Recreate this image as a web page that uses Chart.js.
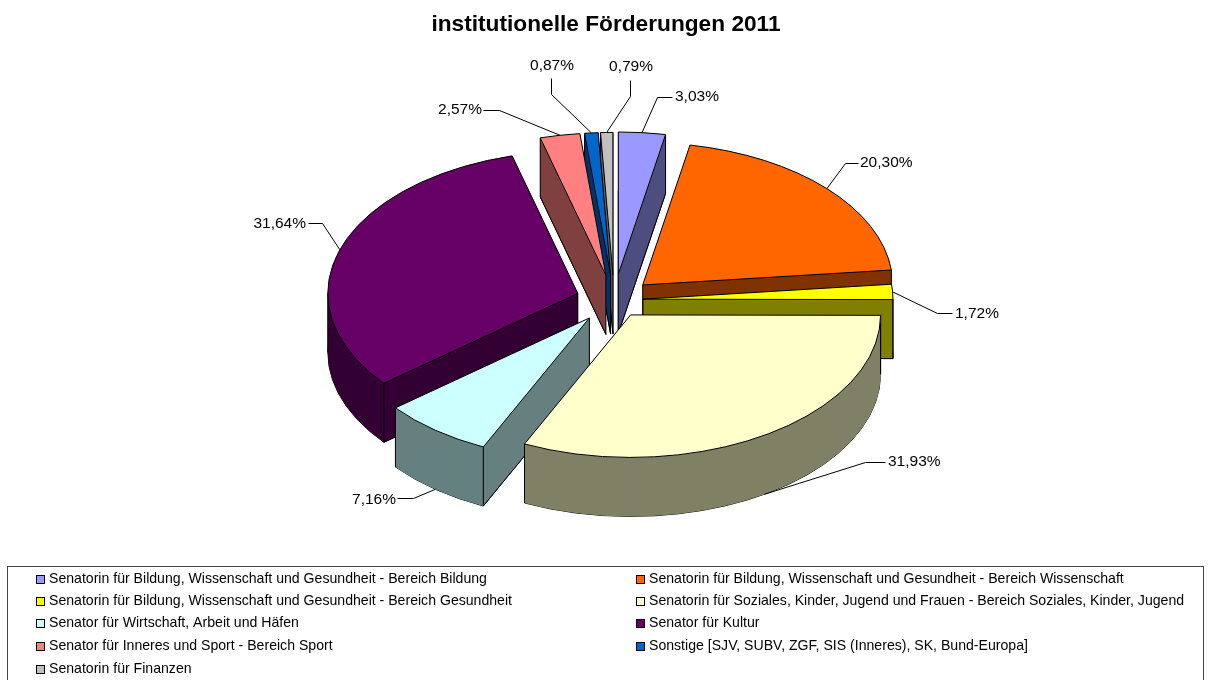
<!DOCTYPE html>
<html><head><meta charset="utf-8">
<style>html,body{margin:0;padding:0;background:#fff}canvas{display:block}</style>
<script src="https://cdn.jsdelivr.net/npm/chart.js@4"></script>
</head><body><canvas id="c" width="1212" height="680"></canvas>
<script>
const categories = [
 "Senatorin für Bildung, Wissenschaft und Gesundheit - Bereich Bildung",
 "Senatorin für Bildung, Wissenschaft und Gesundheit - Bereich Wissenschaft",
 "Senatorin für Bildung, Wissenschaft und Gesundheit - Bereich Gesundheit",
 "Senatorin für Soziales, Kinder, Jugend und Frauen - Bereich Soziales, Kinder, Jugend",
 "Senator für Wirtschaft, Arbeit und Häfen",
 "Senator für Kultur",
 "Senator für Inneres und Sport - Bereich Sport",
 "Sonstige [SJV, SUBV, ZGF, SIS (Inneres), SK, Bund-Europa]",
 "Senatorin für Finanzen"];
const shares = [3.03,20.30,1.72,31.93,7.16,31.64,2.57,0.87,0.79];
const shareLabels = ["3,03%","20,30%","1,72%","31,93%","7,16%","31,64%","2,57%","0,87%","0,79%"];
const topColors = ["#9999FF","#FF6600","#FFFF00","#FFFFCC","#CCFFFF","#660066","#FF8080","#0066CC","#C0C0C0"];
const wallColors = ["#4D4D80","#803300","#808000","#808066","#668080","#330033","#804040","#003366","#606060"];

/* picture layout */
const PIE = {cx:614, cy:300, radius:250, squash:0.57, depth:59};
const explode = [45,39,29,31,40,38,44,44,44];
const leaderElbow = [[657,97],[845,163],[937,313],[865,462],[413,498],[322,223],[499,110],[551,94],[630,96]];
const leaderEnd   = [[672,97],[858,163],[952,313],[885,462],[397,498],[308,223],[483,110],[551,78],[630,80]];
const labelAt     = [[675,97,'left'],[860,163,'left'],[955,314,'left'],[888,462,'left'],[396,500,'right'],[306,224,'right'],[482,110,'right'],[552,66,'center'],[631,67,'center']];
const LEG = {x:7.5,y:566.5,w:1196,h:200,rowY:[579,601,623,646,669],colSwatch:[36,636],colText:[49,649]};

const TAU = Math.PI*2;
const norm = a => ((a%TAU)+TAU)%TAU;
function geom(arc,i){
  const mid=(arc.startAngle+arc.endAngle)/2, e=explode[i];
  const ax=PIE.cx+e*Math.cos(mid), ay=PIE.cy+e*Math.sin(mid)*PIE.squash;
  return {mid,ax,ay,r:arc.outerRadius,s:arc.startAngle,t:arc.endAngle};
}
function rim(g,a){return {x:g.ax+g.r*Math.cos(a),y:g.ay+g.r*Math.sin(a)*PIE.squash};}
function inside(g,x,y){
  const dx=x-g.ax, dy=(y-g.ay)/PIE.squash;
  if(Math.hypot(dx,dy)>=g.r) return false;
  const span=g.t-g.s, rel=norm(Math.atan2(dy,dx)-g.s);
  return rel<span;
}
const pie3d = {
  id:'pie3d',
  beforeDatasetDraw(chart){
    const ctx=chart.ctx, arcs=chart.getDatasetMeta(0).data;
    const place=(arc,g,z)=>{ctx.translate(g.ax,g.ay+z);ctx.scale(1,PIE.squash);ctx.translate(-arc.x,-arc.y);};
    const outline=(arc,g,z)=>{
      ctx.save();place(arc,g,z);ctx.beginPath();ctx.moveTo(arc.x,arc.y);
      ctx.arc(arc.x,arc.y,arc.outerRadius,arc.startAngle,arc.endAngle);ctx.closePath();ctx.restore();
      ctx.strokeStyle='#000';ctx.lineWidth=1;ctx.stroke();
    };
    const face=(arc,g,z,color)=>{
      const saved=arc.options;
      arc.options=Object.assign({},saved,{backgroundColor:color,borderWidth:0,offset:0});
      ctx.save();place(arc,g,z);arc.draw(ctx);ctx.restore();
      arc.options=saved;
    };
    /* back-to-front by the direction each slice points in */
    const order=arcs.map((a,i)=>i).sort((p,q)=>Math.sin(geom(arcs[p],p).mid)-Math.sin(geom(arcs[q],q).mid));
    for(const i of order){
      const arc=arcs[i], g=geom(arc,i), D=PIE.depth;
      outline(arc,g,D);
      for(let z=D;z>=1;z--) face(arc,g,z,wallColors[i]);
      /* solid radial walls, so thin wedges get full cover */
      ctx.fillStyle=wallColors[i];
      for(const a of [g.s,g.t]){
        const p=rim(g,a);
        ctx.beginPath();ctx.moveTo(g.ax,g.ay);ctx.lineTo(p.x,p.y);ctx.lineTo(p.x,p.y+D);ctx.lineTo(g.ax,g.ay+D);ctx.closePath();ctx.fill();
      }
      ctx.strokeStyle='#000';ctx.lineWidth=1;
      /* lower edges of the radial walls that face the viewer */
      [[g.s,Math.sin(g.s-Math.PI/2)],[g.t,Math.sin(g.t+Math.PI/2)]].forEach(([a,facing])=>{
        if(facing<=0) return;
        const p=rim(g,a);
        ctx.beginPath();ctx.moveTo(g.ax,g.ay+D);ctx.lineTo(p.x,p.y+D);ctx.stroke();
      });
      const pts=[{x:g.ax,y:g.ay},rim(g,g.s),rim(g,g.t)];
      for(const p of pts){
        if(inside(g,p.x,p.y+3)) continue;
        ctx.beginPath();ctx.moveTo(p.x,p.y);ctx.lineTo(p.x,p.y+D);ctx.stroke();
      }
      for(const ext of [0,Math.PI]){
        const rel=norm(ext-g.s), span=g.t-g.s, tol=0.02;
        if(rel<span+tol||rel>TAU-tol){
          const p=rim(g,ext);
          ctx.beginPath();ctx.moveTo(p.x,p.y);ctx.lineTo(p.x,p.y+D);ctx.stroke();
        }
      }
      face(arc,g,0,topColors[i]);
      outline(arc,g,0);
    }
    return false;
  },
  afterDraw(chart){
    const ctx=chart.ctx, arcs=chart.getDatasetMeta(0).data;
    ctx.save();
    /* leaders and value labels */
    ctx.font='15.5px "Liberation Sans", Arial, sans-serif';
    ctx.textBaseline='middle';
    arcs.forEach((arc,i)=>{
      const g=geom(arc,i);
      const p=rim(g,g.mid);
      const z=Math.sin(g.mid)>0.3?PIE.depth:0;
      ctx.strokeStyle='#000';ctx.lineWidth=1;
      ctx.beginPath();ctx.moveTo(p.x,p.y+z);
      ctx.lineTo(leaderElbow[i][0]+.5,leaderElbow[i][1]+.5);
      ctx.lineTo(leaderEnd[i][0]+.5,leaderEnd[i][1]+.5);ctx.stroke();
      ctx.fillStyle='#000';ctx.textAlign=labelAt[i][2];
      ctx.fillText(shareLabels[i],labelAt[i][0],labelAt[i][1]);
    });
    /* legend */
    ctx.strokeStyle='#444';ctx.lineWidth=1;
    ctx.strokeRect(LEG.x,LEG.y,LEG.w,LEG.h);
    ctx.font='14.1px "Liberation Sans", Arial, sans-serif';
    ctx.textAlign='left';
    chart.data.labels.forEach((lab,i)=>{
      const col=i%2,row=Math.floor(i/2),y=LEG.rowY[row];
      ctx.fillStyle=topColors[i];
      ctx.fillRect(LEG.colSwatch[col]+.5,y-3.5,8,8);
      ctx.strokeStyle='#000';ctx.strokeRect(LEG.colSwatch[col]+.5,y-3.5,8,8);
      ctx.fillStyle='#000';ctx.fillText(lab,LEG.colText[col],y);
    });
    ctx.restore();
  }
};
new Chart(document.getElementById('c'),{
  type:'pie',
  data:{labels:categories,datasets:[{data:shares,backgroundColor:topColors,borderWidth:0,radius:PIE.radius}]},
  options:{
    responsive:false,animation:false,
    layout:{padding:0},
    plugins:{
      legend:{display:false},tooltip:{enabled:false},
      title:{display:true,text:"institutionelle Förderungen 2011",color:'#000',
        font:{family:'"Liberation Sans", Arial, sans-serif',size:22.7,weight:'bold'},padding:{top:11,bottom:10}}
    }
  },
  plugins:[pie3d]
});
</script></body></html>
